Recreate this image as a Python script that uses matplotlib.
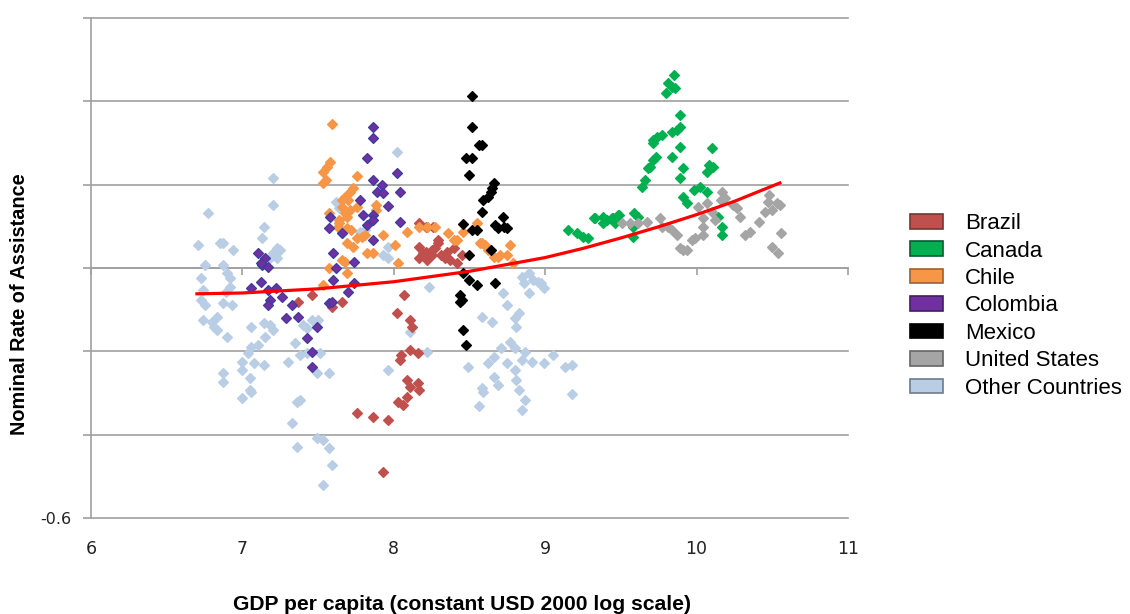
import matplotlib.pyplot as plt
from matplotlib.patches import Patch

# x = GDP per capita (log), y = nominal rate of assistance
brazil_x = [8.17, 8.22, 8.26, 8.21, 8.17, 8.21, 8.25, 8.29, 8.22, 8.17, 8.19, 8.27, 8.25, 8.31,
            8.34, 8.37, 8.35, 8.29, 8.40, 8.45, 8.42, 8.07, 8.02, 8.11, 8.12, 8.05, 8.11, 8.16,
            8.04, 8.09, 8.16, 8.11, 8.17, 8.03, 8.06, 8.09, 7.76, 7.86, 7.96, 7.93, 7.37, 7.46,
            7.59, 7.66]
brazil_y = [0.108, 0.098, 0.098, 0.098, 0.050, 0.038, 0.043, 0.067, 0.019, 0.024, 0.036, 0.048,
            0.031, 0.031, 0.024, 0.019, 0.038, 0.060, 0.048, 0.031, 0.012, -0.065, -0.108, -0.125,
            -0.142, -0.209, -0.197, -0.204, -0.221, -0.269, -0.276, -0.286, -0.293, -0.322, -0.329,
            -0.310, -0.348, -0.358, -0.365, -0.490, -0.082, -0.065, -0.094, -0.082]

canada_x = [9.85, 9.81, 9.84, 9.80, 9.86, 9.89, 9.89, 9.84, 9.87, 9.71, 9.74, 9.77, 9.71, 9.89,
            10.10, 9.73, 9.71, 9.69, 9.68, 9.84, 9.91, 9.89, 10.08, 10.11, 10.07, 9.66, 9.64,
            9.91, 9.94, 9.98, 10.02, 10.07, 10.14, 10.17, 10.17, 9.59, 9.58, 9.58, 9.33, 9.38,
            9.41, 9.44, 9.48, 9.46, 9.38, 9.32, 9.45, 9.49, 9.61, 9.15, 9.21, 9.25, 9.28]
canada_y = [0.463, 0.444, 0.434, 0.420, 0.432, 0.367, 0.338, 0.326, 0.331, 0.307, 0.314, 0.319,
            0.300, 0.290, 0.288, 0.266, 0.259, 0.242, 0.240, 0.266, 0.240, 0.216, 0.247, 0.242,
            0.230, 0.211, 0.194, 0.170, 0.156, 0.187, 0.194, 0.182, 0.122, 0.098, 0.079, 0.132,
            0.098, 0.074, 0.120, 0.122, 0.115, 0.120, 0.127, 0.108, 0.108, 0.120, 0.120, 0.127,
            0.122, 0.091, 0.084, 0.074, 0.072]

chile_x = [7.59, 7.58, 7.56, 7.53, 7.55, 7.53, 7.76, 7.73, 7.71, 7.68, 7.66, 7.70, 7.66, 7.71,
           7.76, 7.69, 7.64, 7.63, 7.69, 7.72, 7.66, 7.76, 7.81, 7.69, 7.73, 7.82, 7.68, 7.69,
           7.57, 7.88, 7.93, 8.01, 8.09, 8.03, 8.17, 8.22, 8.27, 8.36, 8.42, 8.46, 8.55, 8.57,
           8.62, 8.69, 8.75, 8.40, 8.58, 8.60, 8.77, 8.66, 8.70, 8.79, 7.53, 7.57, 7.68, 7.64,
           7.79, 7.86, 7.66, 7.88]
chile_y = [0.346, 0.254, 0.242, 0.230, 0.211, 0.204, 0.221, 0.192, 0.182, 0.170, 0.163, 0.163,
           0.146, 0.139, 0.146, 0.122, 0.115, 0.098, 0.096, 0.091, 0.084, 0.072, 0.079, 0.060,
           0.050, 0.036, 0.014, -0.012, 0.000, 0.151, 0.079, 0.055, 0.086, 0.012, 0.098, 0.098,
           0.098, 0.084, 0.067, 0.086, 0.108, 0.060, 0.043, 0.026, 0.031, 0.067, 0.060, 0.055,
           0.055, 0.026, 0.031, 0.012, -0.041, 0.132, 0.132, 0.108, 0.074, 0.036, 0.019, 0.139]

colombia_x = [7.86, 7.86, 7.82, 8.02, 7.86, 7.92, 7.89, 8.04, 7.93, 7.78, 7.96, 7.80, 7.86,
              7.86, 7.58, 7.57, 7.66, 7.82, 8.04, 7.86, 7.60, 7.74, 7.10, 7.15, 7.13, 7.12,
              7.17, 7.12, 7.06, 7.17, 7.22, 7.18, 7.17, 7.26, 7.33, 7.29, 7.37, 7.62, 7.60,
              7.74, 7.70, 7.57, 7.59, 7.49, 7.43, 7.46, 7.46]
colombia_y = [0.338, 0.312, 0.264, 0.228, 0.211, 0.199, 0.182, 0.182, 0.180, 0.163, 0.149,
              0.127, 0.127, 0.115, 0.122, 0.096, 0.084, 0.103, 0.110, 0.067, 0.036, 0.014,
              0.036, 0.024, 0.007, 0.012, 0.002, -0.034, -0.048, -0.053, -0.048, -0.077,
              -0.089, -0.070, -0.089, -0.120, -0.118, 0.000, -0.029, -0.036, -0.058, -0.084,
              -0.082, -0.142, -0.168, -0.202, -0.238]

mexico_x = [8.52, 8.52, 8.56, 8.58, 8.48, 8.52, 8.50, 8.66, 8.65, 8.64, 8.62, 8.59, 8.58, 8.72,
            8.73, 8.67, 8.69, 8.75, 8.46, 8.52, 8.55, 8.64, 8.50, 8.46, 8.50, 8.55, 8.67, 8.44,
            8.45, 8.44, 8.46, 8.48]
mexico_y = [0.413, 0.338, 0.295, 0.295, 0.264, 0.264, 0.223, 0.204, 0.192, 0.182, 0.170, 0.163,
            0.134, 0.122, 0.098, 0.103, 0.096, 0.096, 0.106, 0.091, 0.091, 0.043, 0.031, -0.012,
            -0.029, -0.041, -0.036, -0.065, -0.077, -0.082, -0.149, -0.185]

us_x = [9.51, 9.56, 9.61, 9.67, 9.76, 9.77, 9.81, 9.84, 9.87, 9.89, 9.91, 9.94, 9.97, 9.99,
        10.04, 10.04, 10.04, 10.07, 10.01, 10.12, 10.10, 10.16, 10.17, 10.19, 10.24, 10.27,
        10.29, 10.35, 10.32, 10.41, 10.45, 10.47, 10.48, 10.53, 10.55, 10.50, 10.56, 10.50,
        10.54]
us_y = [0.108, 0.108, 0.108, 0.110, 0.120, 0.098, 0.098, 0.091, 0.079, 0.048, 0.043, 0.043,
        0.067, 0.072, 0.079, 0.098, 0.120, 0.156, 0.146, 0.115, 0.134, 0.163, 0.182, 0.168,
        0.151, 0.144, 0.122, 0.086, 0.079, 0.110, 0.134, 0.158, 0.175, 0.156, 0.151, 0.139,
        0.084, 0.050, 0.036]

other_x = [7.20, 6.77, 7.14, 6.71, 6.85, 6.87, 6.94, 7.23, 7.20, 7.25, 7.13, 7.18, 7.23, 6.75,
           6.87, 6.73, 6.92, 6.90, 6.92, 6.89, 6.74, 6.73, 6.75, 6.87, 6.93, 6.74, 6.80, 6.83,
           6.81, 6.83, 6.90, 7.06, 7.14, 7.18, 7.20, 7.15, 7.10, 7.06, 7.04, 7.00, 7.00, 7.08,
           7.14, 6.87, 6.87, 7.05, 7.05, 7.06, 7.00, 7.30, 7.36, 7.38, 7.33, 7.36, 7.49, 7.53,
           7.57, 7.59, 7.53, 7.50, 7.46, 7.40, 7.43, 7.35, 7.38, 7.43, 7.51, 7.49, 7.57, 7.96,
           8.23, 8.11, 8.22, 7.93, 7.96, 7.81, 7.62, 7.64, 8.02, 7.20, 7.78, 7.96,
           8.85, 8.89, 8.92, 8.97, 8.89, 8.99, 8.95, 8.86, 8.72, 8.75, 8.83, 8.80, 8.81, 8.58,
           8.65, 8.77, 8.71, 8.80, 8.87, 8.66, 8.62, 8.75, 8.85, 8.91, 8.99, 9.05, 8.49, 9.13,
           9.18, 8.66, 8.69, 8.58, 8.59, 8.80, 8.81, 8.83, 9.18, 8.87, 8.85, 8.56]
other_y = [0.151, 0.132, 0.098, 0.055, 0.060, 0.060, 0.043, 0.048, 0.036, 0.043, 0.072, 0.024,
           0.024, 0.007, 0.007, -0.024, -0.024, -0.012, -0.046, -0.058, -0.053, -0.077, -0.089,
           -0.084, -0.089, -0.125, -0.130, -0.118, -0.142, -0.149, -0.166, -0.142, -0.132,
           -0.137, -0.149, -0.166, -0.185, -0.190, -0.204, -0.226, -0.245, -0.228, -0.233,
           -0.252, -0.274, -0.264, -0.293, -0.298, -0.312, -0.226, -0.322, -0.317, -0.372,
           -0.430, -0.408, -0.413, -0.432, -0.473, -0.521, -0.125, -0.125, -0.137, -0.144,
           -0.180, -0.209, -0.204, -0.204, -0.252, -0.252, -0.245, -0.046, -0.154, -0.202,
           0.031, 0.024, 0.091, 0.158, 0.144, 0.278, 0.216, 0.086, 0.050,
           -0.022, -0.012, -0.029, -0.036, -0.060, -0.048, -0.034, -0.036, -0.060, -0.089,
           -0.108, -0.120, -0.142, -0.118, -0.130, -0.178, -0.192, -0.192, -0.202, -0.214,
           -0.228, -0.228, -0.221, -0.226, -0.228, -0.209, -0.238, -0.238, -0.233, -0.262,
           -0.281, -0.288, -0.298, -0.245, -0.269, -0.293, -0.302, -0.317, -0.341, -0.331]

# fitted trend line, read at a few points
trend_x = [6.70, 7.00, 7.50, 8.00, 8.50, 9.00, 9.25, 9.50, 9.75, 10.00, 10.25, 10.55]
trend_y = [-0.062, -0.060, -0.050, -0.033, -0.008, 0.025, 0.047, 0.072, 0.099, 0.128, 0.160, 0.204]

x_ticks = [6, 7, 8, 9, 10, 11]
y_ticks = [-0.6, -0.4, -0.2, 0.0, 0.2, 0.4, 0.6]
y_tick_labels = ['-0.6', '', '', '', '', '', '']

# label, x, y, fill, edge
series = [
    ('Other Countries', other_x, other_y, '#b9cde5', '#b9cde5'),
    ('Brazil', brazil_x, brazil_y, '#c0504d', '#c0504d'),
    ('Canada', canada_x, canada_y, '#00b050', '#00b050'),
    ('Chile', chile_x, chile_y, '#f79646', '#f79646'),
    ('Colombia', colombia_x, colombia_y, '#7030a0', '#3c3ca0'),
    ('Mexico', mexico_x, mexico_y, '#000000', '#000000'),
    ('United States', us_x, us_y, '#a5a5a5', '#a5a5a5'),
]
legend_order = ['Brazil', 'Canada', 'Chile', 'Colombia', 'Mexico', 'United States', 'Other Countries']
legend_edges = {'Brazil': '#7a3432', 'Canada': '#0a5a30', 'Chile': '#9c6030', 'Colombia': '#40205e',
                'Mexico': '#000000', 'United States': '#666666', 'Other Countries': '#6e7c8c'}

grey = '#a0a0a0'

fig = plt.figure(figsize=(11.3, 6.14), dpi=100)
ax = fig.add_axes([0.0805, 0.1564, 0.6699, 0.8143])

for label, xs, ys, fc, ec in series:
    ax.plot(xs, ys, 'D', ls='none', ms=5.6, mfc=fc, mec=ec, mew=0.9, zorder=3)

ax.plot(trend_x, trend_y, color='#ff0000', lw=2.3, zorder=4)

ax.set_xlim(6, 11)
ax.set_ylim(-0.6, 0.6)
ax.set_yticks(y_ticks)
ax.set_yticklabels(y_tick_labels)
ax.set_xticks(x_ticks)

ax.grid(axis='y', color=grey, lw=1.2)
for gl in ax.get_ygridlines():
    gl.set_clip_on(False)
ax.set_axisbelow(True)

ax.spines['top'].set_visible(False)
ax.spines['right'].set_visible(False)
ax.spines['left'].set_color(grey)
ax.spines['left'].set_linewidth(1.2)
ax.spines['bottom'].set_position(('data', 0))
ax.spines['bottom'].set_color(grey)
ax.spines['bottom'].set_linewidth(1.2)

ax.tick_params(axis='y', direction='out', length=6, width=1.2, color=grey,
               labelsize=11.5, pad=8, labelcolor='#222222')
ax.tick_params(axis='x', direction='out', length=5, width=1.2, color=grey, labelbottom=False)

# tick labels sit at the bottom of the plot, not on the zero line
sec = ax.secondary_xaxis(0.0)
sec.set_xticks(x_ticks)
sec.tick_params(length=0, pad=16, labelsize=12.5, labelcolor='#222222')
sec.spines['bottom'].set_visible(False)

fig.text(0.409, 1 - 604 / 614, 'GDP per capita (constant USD 2000 log scale)',
         ha='center', va='center', fontsize=15.2, fontweight='bold', family='Liberation Sans')
fig.text(20 / 1130, 1 - 304 / 614, 'Nominal Rate of Assistance', rotation=90,
         ha='center', va='center', fontsize=14.3, fontweight='bold', family='Liberation Sans')

colors = {s[0]: s[3] for s in series}
handles = [Patch(facecolor=colors[n], edgecolor=legend_edges[n], lw=1.2, label=n) for n in legend_order]
fig.legend(handles=handles, loc='upper left', bbox_to_anchor=(0.805, 0.653), frameon=False,
           prop={'family': 'Liberation Sans', 'size': 16}, handlelength=1.49, handleheight=0.63,
           handletextpad=1.0, labelspacing=0.29, borderpad=0, borderaxespad=0)

fig.savefig('out.png', dpi=100)
